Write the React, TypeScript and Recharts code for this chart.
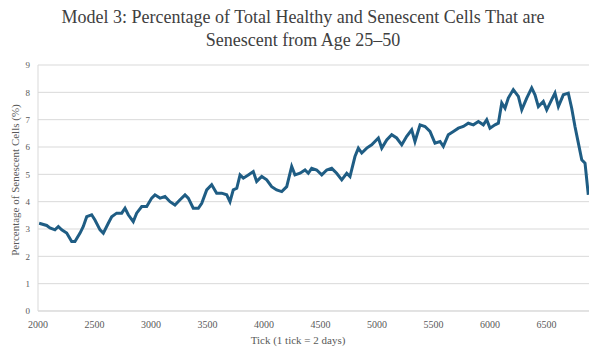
import React from 'react';
import { LineChart, Line, XAxis, YAxis, CartesianGrid } from 'recharts';

// tick (x) and % senescent (y)
const TICKS = [
  2010, 2077, 2106, 2150, 2180, 2210, 2254, 2298, 2327, 2372, 2401, 2431, 2475, 2504, 2549, 2578,
  2622, 2652, 2696, 2741, 2770, 2799, 2843, 2873, 2918, 2962, 3006, 3035, 3080, 3124, 3168, 3212,
  3257, 3301, 3330, 3374, 3419, 3449, 3493, 3537, 3581, 3626, 3670, 3699, 3728, 3759, 3788, 3817,
  3861, 3905, 3935, 3980, 4024, 4068, 4112, 4157, 4201, 4245, 4274, 4319, 4363, 4392, 4422, 4466,
  4511, 4555, 4599, 4643, 4688, 4732, 4761, 4805, 4835, 4865, 4909, 4953, 5012, 5042, 5086, 5130,
  5174, 5219, 5263, 5307, 5336, 5381, 5425, 5469, 5513, 5558, 5587, 5631, 5676, 5720, 5764, 5808,
  5853, 5897, 5941, 5971, 6000, 6044, 6074, 6104, 6133, 6162, 6206, 6251, 6281, 6325, 6369, 6398,
  6428, 6472, 6502, 6546, 6575, 6605, 6649, 6693, 6723, 6752, 6782, 6812, 6841, 6870,
];

const PCT = [
  3.21, 3.13, 3.04, 2.97, 3.09, 2.97, 2.85, 2.54, 2.54, 2.85, 3.09, 3.45, 3.52, 3.33, 2.97, 2.85,
  3.21, 3.45, 3.58, 3.58, 3.76, 3.52, 3.27, 3.58, 3.82, 3.82, 4.13, 4.25, 4.13, 4.19, 4.0, 3.88,
  4.07, 4.25, 4.13, 3.76, 3.76, 3.94, 4.43, 4.62, 4.31, 4.31, 4.25, 4.0, 4.43, 4.49, 4.98, 4.86,
  4.98, 5.1, 4.74, 4.92, 4.8, 4.55, 4.43, 4.37, 4.55, 5.29, 4.98, 5.04, 5.16, 5.04, 5.22, 5.16,
  4.98, 5.16, 5.22, 5.04, 4.8, 5.04, 4.92, 5.65, 5.96, 5.78, 5.96, 6.08, 6.33, 5.96, 6.26, 6.45,
  6.33, 6.08, 6.39, 6.63, 6.2, 6.81, 6.75, 6.57, 6.14, 6.2, 6.02, 6.45, 6.57, 6.69, 6.75, 6.87,
  6.81, 6.93, 6.81, 7.0, 6.69, 6.81, 6.87, 7.61, 7.42, 7.79, 8.1, 7.85, 7.36, 7.79, 8.16, 7.91,
  7.48, 7.67, 7.36, 7.73, 7.97, 7.48, 7.91, 7.97, 7.42, 6.75, 6.14, 5.53, 5.41, 4.25,
];

const X_TICKS = [2000, 2500, 3000, 3500, 4000, 4500, 5000, 5500, 6000, 6500];
const Y_TICKS = [0, 1, 2, 3, 4, 5, 6, 7, 8, 9];

const data = TICKS.map((t, i) => ({ tick: t, pct: PCT[i] }));

const FONT = '"Liberation Serif", "Times New Roman", serif';
const GRID = '#d9d9d9';
const TEXT = '#595959';

export default function App() {
  return (
    <div
      style={{
        position: 'fixed',
        top: 0,
        left: 0,
        width: 589,
        height: 350,
        overflow: 'hidden',
        background: '#fff',
        fontFamily: FONT,
      }}
    >
      <div
        style={{
          position: 'absolute',
          top: 6,
          left: 0,
          width: 606,
          textAlign: 'center',
          fontSize: 18,
          lineHeight: '23px',
          color: '#404040',
        }}
      >
        Model 3: Percentage of Total Healthy and Senescent Cells That are
        <br />
        Senescent from Age 25–50
      </div>

      <div style={{ position: 'absolute', top: 0, left: 0 }}>
        <LineChart
          width={606}
          height={350}
          data={data}
          margin={{ top: 65, right: 3, bottom: 0, left: 0 }}
        >
          <CartesianGrid horizontal vertical={false} stroke={GRID} />
          <XAxis
            dataKey="tick"
            type="number"
            domain={[2000, 7000]}
            ticks={X_TICKS}
            height={39}
            tickLine={false}
            axisLine={{ stroke: GRID }}
            tickMargin={4}
            tick={{ fontSize: 10, fill: TEXT, fontFamily: FONT }}
          />
          <YAxis
            type="number"
            domain={[0, 9]}
            ticks={Y_TICKS}
            width={38}
            tickLine={false}
            axisLine={{ stroke: GRID }}
            tick={{ fontSize: 9, fill: TEXT, fontFamily: FONT }}
          />
          <Line
            type="linear"
            dataKey="pct"
            stroke="#1f5d84"
            strokeWidth={3}
            dot={false}
            isAnimationActive={false}
          />
        </LineChart>
      </div>

      <div
        style={{
          position: 'absolute',
          left: 15,
          top: 180,
          transform: 'translate(-50%, -50%) rotate(-90deg)',
          whiteSpace: 'nowrap',
          fontSize: 11,
          color: TEXT,
        }}
      >
        Percentage of Senescent Cells (%)
      </div>
      <div
        style={{
          position: 'absolute',
          left: 298,
          top: 340,
          transform: 'translate(-50%, -50%)',
          whiteSpace: 'nowrap',
          fontSize: 11,
          color: TEXT,
        }}
      >
        Tick (1 tick = 2 days)
      </div>
    </div>
  );
}
